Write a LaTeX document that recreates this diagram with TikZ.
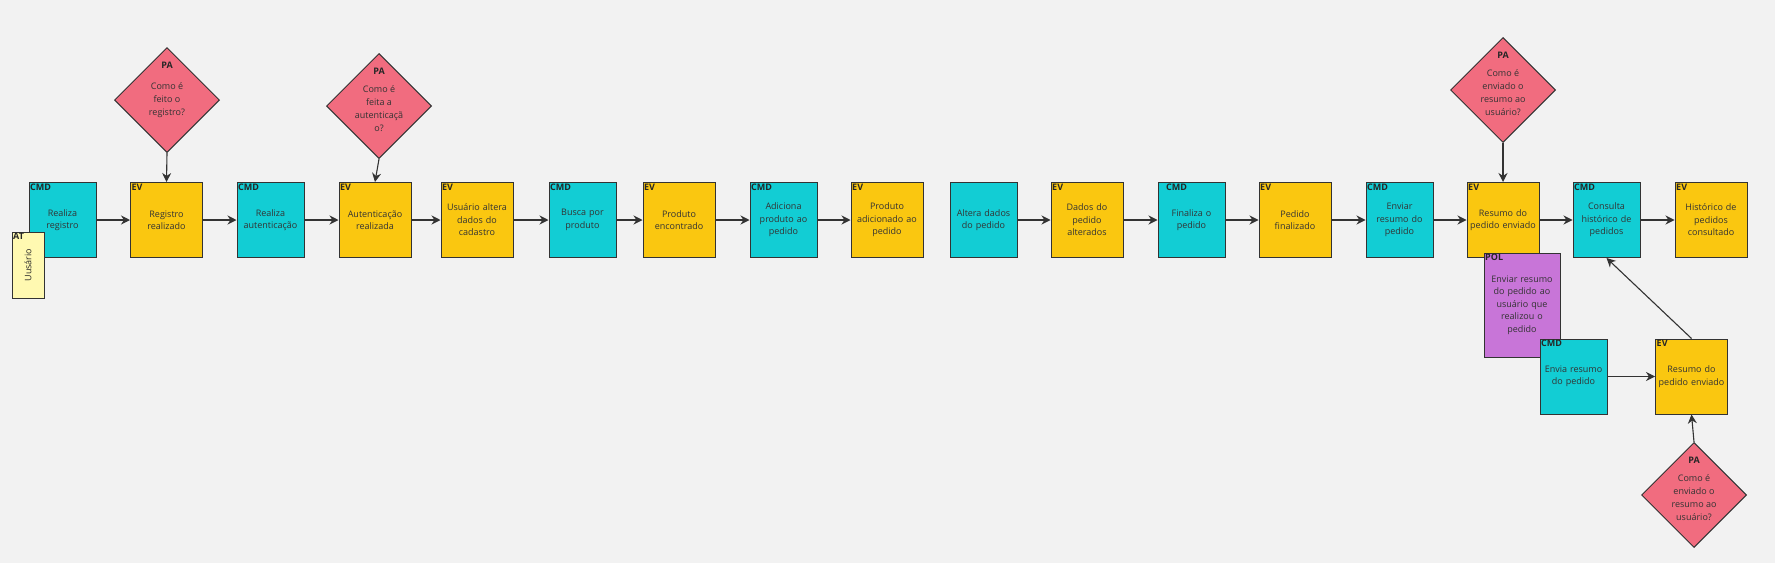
\documentclass[tikz,border=0pt]{standalone}
\usepackage{fontspec}
\setmainfont{Open Sans}
\usetikzlibrary{shapes.geometric,arrows.meta}

\definecolor{bgc}{HTML}{F2F2F2}
\definecolor{cmdc}{HTML}{12CDD4}
\definecolor{evc}{HTML}{FAC710}
\definecolor{pac}{HTML}{F16C7F}
\definecolor{polc}{HTML}{C875D8}
\definecolor{atc}{HTML}{FFF9B1}

\tikzset{
    card/.style={rectangle, draw=black!80, line width=1pt, minimum height=75pt,
        text width=64pt, align=center, inner sep=0pt, text=black!80,
        font=\fontsize{9}{12.5}\selectfont},
    corner/.style={anchor=north west, inner sep=1.5pt, text=black!85,
        font=\bfseries\fontsize{9}{10}\selectfont},
    cmdbox/.style={card, fill=cmdc, minimum width=67pt, label={[corner]north west:CMD}},
    evbox/.style={card, fill=evc, minimum width=72pt, text width=71pt,
        label={[corner]north west:EV}},
    pabox/.style={diamond, draw=black!80, line width=1pt, fill=pac, minimum width=105pt,
        minimum height=105pt, inner sep=-8pt, align=center, text=black!80,
        font=\fontsize{9}{13}\selectfont,
        label={[anchor=north, yshift=-13pt, inner sep=1.5pt, text=black!85,
            font=\bfseries\fontsize{9}{10}\selectfont]north:PA}},
    flow/.style={->, draw=black!80, line width=1.1pt}
}

\begin{document}
\begin{tikzpicture}[x=1pt, y=-1pt, >={Stealth[length=9pt,width=9pt]}]
    \fill[bgc] (0,0) rectangle (1775,563);

    \node[cmdbox] (realreg) at (62.5,220) {Realiza\\registro};
    \node[card, fill=atc, minimum width=32pt, minimum height=66pt, text width=,
        label={[corner]north west:AT},
        label={[rotate=90, text=black!85, font=\fontsize{9}{10}\selectfont]center:Uusário}]
        (usuario) at (28,265) {};
    \node[evbox] (regreal) at (166.5,220) {Registro\\realizado};
    \node[cmdbox] (realaut) at (270.5,220) {Realiza\\autenticação};
    \node[evbox] (autreal) at (375,220) {Autenticação\\realizada};
    \node[evbox] (altcad) at (477,220) {Usuário altera\\dados do\\cadastro};
    \node[cmdbox] (busca) at (582.5,220) {Busca por\\produto};
    \node[evbox] (prodenc) at (679,220) {Produto\\encontrado};
    \node[cmdbox] (adiciona) at (783.5,220) {Adiciona\\produto ao\\pedido};
    \node[evbox] (prodadd) at (887,220) {Produto\\adicionado ao\\pedido};

    \node[card, fill=cmdc, minimum width=67pt] (altped) at (983.5,220) {Altera dados\\do pedido};
    \node[evbox] (pedalt) at (1087,220) {Dados do\\pedido\\alterados};
    \node[card, fill=cmdc, minimum width=67pt, label={[corner, xshift=7pt]north west:CMD}]
        (finaliza) at (1191.5,220) {Finaliza o\\pedido};
    \node[evbox] (pedfin) at (1295,220) {Pedido\\finalizado};
    \node[cmdbox] (enviar) at (1399.5,220) {Enviar\\resumo do\\pedido};
    \node[evbox] (resenv) at (1503,220) {Resumo do\\pedido enviado};
    \node[cmdbox] (consulta) at (1606.5,220) {Consulta\\histórico de\\pedidos};
    \node[evbox] (histcons) at (1711,220) {Histórico de\\pedidos\\consultado};

    \node[card, fill=polc, minimum width=76pt, minimum height=104pt, text width=70pt,
        label={[corner]north west:POL}]
        (politica) at (1522,305) {Enviar resumo\\do pedido ao\\usuário que\\realizou o\\pedido};
    \node[cmdbox] (envia) at (1573.5,376.5) {Envia resumo\\do pedido};
    \node[evbox] (resenv2) at (1691.5,376.5) {Resumo do\\pedido enviado};

    \node[pabox] (pareg) at (167,100) {Como é\\feito o\\registro?};
    \node[pabox] (paaut) at (379,106) {\\Como é\\feita a\\autenticaçã\\o?};
    \node[pabox] (paenv) at (1503,90) {\\Como é\\enviado o\\resumo ao\\usuário?};
    \node[pabox] (paenv2) at (1694,495) {\\Como é\\enviado o\\resumo ao\\usuário?};

    \draw[flow] (realreg) -- (regreal);
    \draw[flow] (regreal) -- (realaut);
    \draw[flow] (realaut) -- (autreal);
    \draw[flow] (autreal) -- (altcad);
    \draw[flow] (altcad) -- (busca);
    \draw[flow] (busca) -- (prodenc);
    \draw[flow] (prodenc) -- (adiciona);
    \draw[flow] (adiciona) -- (prodadd);

    \draw[flow] (altped) -- (pedalt);
    \draw[flow] (pedalt) -- (finaliza);
    \draw[flow] (finaliza) -- (pedfin);
    \draw[flow] (pedfin) -- (enviar);
    \draw[flow] (enviar) -- (resenv);
    \draw[flow] (resenv) -- (consulta);
    \draw[flow] (consulta) -- (histcons);

    \draw[flow] (pareg.south) -- (regreal.north);
    \draw[flow] (paaut.south) -- (autreal.north);
    \draw[flow] (paenv.south) -- (resenv.north);

    \draw[flow] (envia) -- (resenv2);
    \draw[flow] (resenv2.north) -- (consulta.south);
    \draw[flow] (paenv2.north) -- (resenv2.south);
\end{tikzpicture}
\end{document}
